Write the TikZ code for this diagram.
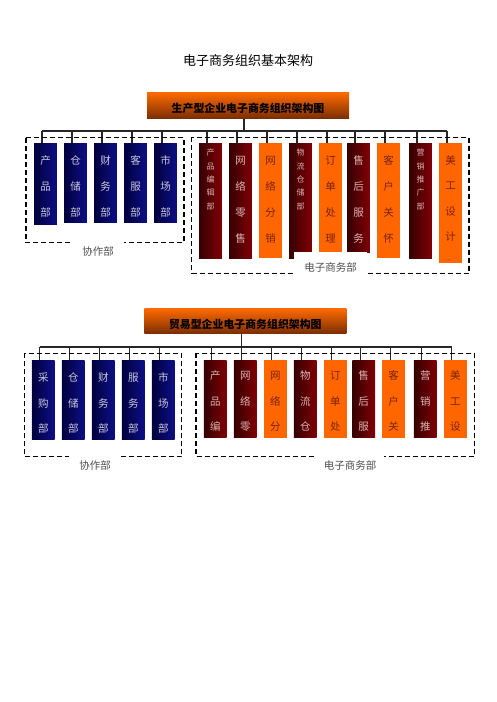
\documentclass[tikz,border=0pt]{standalone}
\usepackage{fontspec}
\setmainfont{Noto Sans CJK SC}
\usepackage{tikz}

\definecolor{navyL}{HTML}{00003E}
\definecolor{navyR}{HTML}{0E0E86}
\definecolor{navyT}{HTML}{C8C8E0}
\definecolor{wineL}{HTML}{360000}
\definecolor{wineR}{HTML}{800006}
\definecolor{wineT}{HTML}{DDB4B4}
\definecolor{amber}{HTML}{FF6600}
\definecolor{amberT}{HTML}{7A2200}
\definecolor{headtop}{HTML}{FF6A00}
\definecolor{headbot}{HTML}{7A2E00}
\definecolor{lblgrey}{HTML}{505050}

% one character per line, fixed line distance
\newcommand{\colchars}[2]{\vtop{\baselineskip=#1\relax\lineskiplimit=-100pt\foreach \ch in {#2}{\hbox{\ch}}}}

\tikzset{
  cell/.style={anchor=north, minimum width=22.7pt, inner sep=0pt, text height=21pt,
    font=\fontsize{10.5}{12}\selectfont},
  smallcell/.style={text height=12.7pt, font=\fontsize{8}{9}\selectfont},
  bluecell/.style={cell, left color=navyL, right color=navyR, text=navyT},
  winecell/.style={cell, left color=wineL, right color=wineR, text=wineT},
  ambercell/.style={cell, fill=amber, text=amberT},
  headbar/.style={anchor=north, minimum width=202pt, inner sep=0pt, text height=19.7pt,
    top color=headtop, bottom color=headbot, font=\fontsize{10.9}{12}\selectfont\bfseries},
  frame/.style={dashed, dash pattern=on 5pt off 3pt, line width=1.1pt},
  grouplbl/.style={fill=white, text=lblgrey, inner xsep=10pt, inner ysep=4pt,
    font=\fontsize{10.5}{12}\selectfont},
  bus/.style={line width=1.8pt, black!85},
  drop/.style={line width=1.2pt, black!85}
}

\begin{document}
\begin{tikzpicture}[x=1pt,y=1pt]
\fill[white] (0,0) rectangle (496,-702);
\useasboundingbox (0,0) rectangle (496,-702);

\node[font=\fontsize{13}{15}\selectfont] (title) at (248,-60.7) {电子商务组织基本架构};

% Production type
\node[headbar, text depth=6.3pt] (pHead) at (248,-92.3) {生产型企业电子商务组织架构图};
\coordinate (pBus) at (244,-131);

\node[bluecell, text depth=60pt] (p1) at (45.5,-143) {\colchars{26pt}{产,品,部}};
\node[bluecell, text depth=58pt] (p2) at (75.5,-143) {\colchars{26pt}{仓,储,部}};
\node[bluecell, text depth=58pt] (p3) at (105.5,-143) {\colchars{26pt}{财,务,部}};
\node[bluecell, text depth=58pt] (p4) at (135.5,-143) {\colchars{26pt}{客,服,部}};
\node[bluecell, text depth=58pt] (p5) at (165.5,-143) {\colchars{26pt}{市,场,部}};

\node[winecell, smallcell, text depth=102.3pt] (p6) at (210.5,-143) {\colchars{13.3pt}{产,品,编,辑,部}};
\node[winecell, text depth=94pt] (p7) at (240.5,-143) {\colchars{26pt}{网,络,零,售}};
\node[ambercell, text depth=94pt] (p8) at (270.5,-143) {\colchars{26pt}{网,络,分,销}};
\node[winecell, smallcell, text depth=102.3pt] (p9) at (300.5,-143) {\colchars{13.3pt}{物,流,仓,储,部}};
\node[ambercell, text depth=88pt] (p10) at (330.5,-143) {\colchars{26pt}{订,单,处,理}};
\node[winecell, text depth=88pt] (p11) at (358.5,-143) {\colchars{26pt}{售,后,服,务}};
\node[ambercell, text depth=94pt] (p12) at (388.5,-143) {\colchars{26pt}{客,户,关,怀}};
\node[winecell, smallcell, text depth=102.3pt] (p13) at (420.5,-143) {\colchars{13.3pt}{营,销,推,广,部}};
\node[ambercell, text depth=99pt] (p14) at (450.5,-143)
  {\colchars{25.5pt}{美,工,设,计,{\raisebox{6pt}{\fontsize{6}{6}\selectfont.\kern.6pt.\kern.6pt.}}}};

\draw[drop] (pHead.south -| pBus) -- (pBus);
\draw[bus] ([xshift=-3.5pt]p1.north |- pBus) -- ([xshift=-3.5pt]p14.north |- pBus);
\foreach \i in {1,...,14}
  \draw[drop] ([xshift=-3.5pt]p\i.north |- pBus) -- ([xshift=-3.5pt]p\i.north);

\draw[frame] (26,-137.7) rectangle (184,-242.3);
\draw[frame] (191.7,-137.3) rectangle (469,-273.3);
\node[grouplbl] (pCoop) at (98,-251) {协作部};
\node[grouplbl, inner ysep=11pt] (pEcom) at (330.5,-267.7) {电子商务部};

% Trade type
\node[headbar, text depth=5.3pt] (tHead) at (245.3,-308.3) {贸易型企业电子商务组织架构图};
\coordinate (tBus) at (241.7,-346.7);

\node[bluecell, text depth=58.7pt] (t1) at (43.3,-360) {\colchars{25.8pt}{采,购,部}};
\node[bluecell, text depth=58.7pt] (t2) at (73.3,-360) {\colchars{25.8pt}{仓,储,部}};
\node[bluecell, text depth=58.7pt] (t3) at (103.3,-360) {\colchars{25.8pt}{财,务,部}};
\node[bluecell, text depth=58.7pt] (t4) at (133.3,-360) {\colchars{25.8pt}{服,务,部}};
\node[bluecell, text depth=58.7pt] (t5) at (163.3,-360) {\colchars{25.8pt}{市,场,部}};

\node[winecell, text depth=58.7pt, text height=19pt] (t6) at (215.3,-360) {\colchars{25.8pt}{产,品,编}};
\node[winecell, text depth=58.7pt, text height=19pt] (t7) at (245.3,-360) {\colchars{25.8pt}{网,络,零}};
\node[ambercell, text depth=58.7pt, text height=19pt] (t8) at (275.3,-360) {\colchars{25.8pt}{网,络,分}};
\node[winecell, text depth=58.7pt, text height=19pt] (t9) at (305.3,-360) {\colchars{25.8pt}{物,流,仓}};
\node[ambercell, text depth=58.7pt, text height=19pt] (t10) at (335.3,-360) {\colchars{25.8pt}{订,单,处}};
\node[winecell, text depth=58.7pt, text height=19pt] (t11) at (363.7,-360) {\colchars{25.8pt}{售,后,服}};
\node[ambercell, text depth=58.7pt, text height=19pt] (t12) at (393.7,-360) {\colchars{25.8pt}{客,户,关}};
\node[winecell, text depth=58.7pt, text height=19pt] (t13) at (425.3,-360) {\colchars{25.8pt}{营,销,推}};
\node[ambercell, text depth=58.7pt, text height=19pt] (t14) at (455.3,-360) {\colchars{25.8pt}{美,工,设}};

\draw[drop] (tHead.south -| tBus) -- (tBus);
\draw[bus] ([xshift=-3.5pt]t1.north |- tBus) -- ([xshift=-3.5pt]t14.north |- tBus);
\foreach \i in {1,...,14}
  \draw[drop] ([xshift=-3.5pt]t\i.north |- tBus) -- ([xshift=-3.5pt]t\i.north);

\draw[frame] (24.3,-353.3) rectangle (181.7,-456.7);
\draw[frame] (196,-353.3) rectangle (474.3,-456.7);
\node[grouplbl, inner ysep=5pt] (tCoop) at (95,-465.7) {协作部};
\node[grouplbl, inner ysep=5pt, inner xsep=8pt] (tEcom) at (350,-465.7) {电子商务部};

\end{tikzpicture}
\end{document}
